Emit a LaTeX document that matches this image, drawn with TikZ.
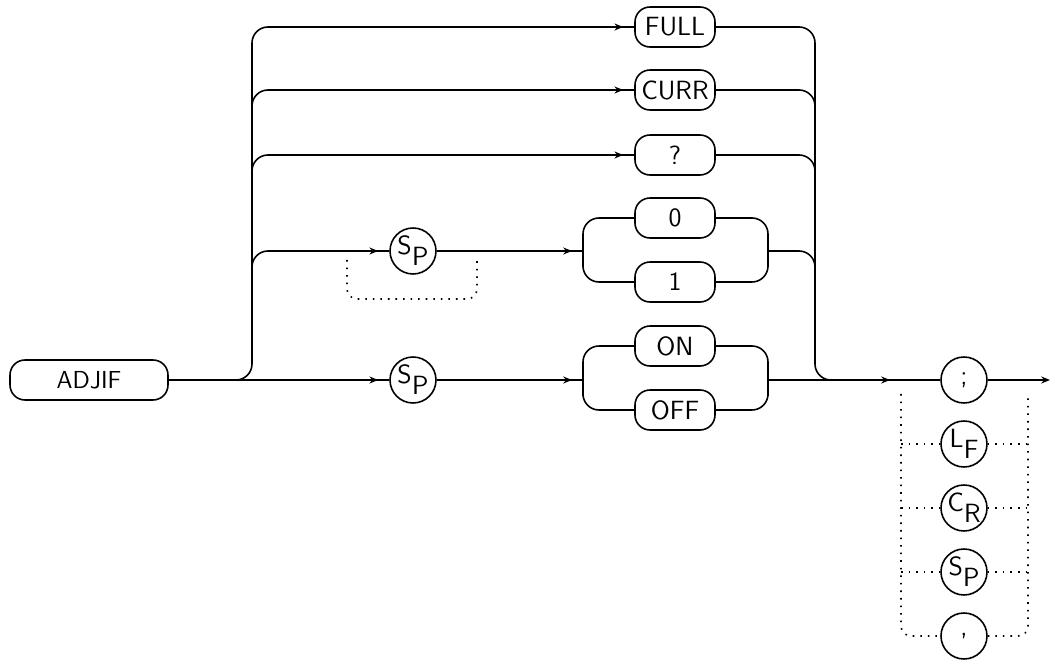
\documentclass[tikz,border=0pt]{standalone}
\usepackage{fontspec}
\usepackage{tikz}
\usetikzlibrary{positioning,calc,arrows.meta,decorations.markings}

\newcommand{\plotfont}{\sffamily\fontsize{15}{17}\selectfont}
\newcommand{\lowpair}[2]{\raisebox{0.45ex}{#1}\kern0.01em\raisebox{-0.5ex}{#2}}

\begin{document}
\begin{tikzpicture}[x=0.02cm, y=-0.02cm,
    box/.style={draw, line width=0.9pt, rounded corners=0.3cm, minimum width=1.6cm, minimum height=0.8cm, inner sep=0pt, font=\plotfont},
    ring/.style={draw, circle, line width=0.9pt, minimum size=0.92cm, inner sep=0pt, font=\plotfont},
    rail/.style={line width=0.9pt, rounded corners=0.32cm},
    opt/.style={line width=0.9pt, dash pattern=on 0.9pt off 3.4pt, rounded corners=0.2cm},
    feed/.style={postaction={decorate, decoration={markings, mark=at position -0.22cm with {\arrow{Stealth[length=5pt,width=4pt]}}}}}
]
\useasboundingbox (0,0) rectangle (1052,661);

% keywords
\node[box, minimum width=3.16cm, font=\sffamily\fontsize{14}{16}\selectfont] (adjif) at (89,380) {ADJIF};
\node[box] (full)  at (675,27)  {FULL};
\node[box] (curr)  at (675,90)  {CURR};
\node[box] (query) at (675,155) {?};
\node[box] (zero)  at (675,218) {0};
\node[box] (one)   at (675,282) {1};
\node[box] (on)    at (675,346) {ON};
\node[box] (off)   at (675,410) {OFF};

% separators
\node[ring] (sp1) at (413,251) {\lowpair{S}{P}};
\node[ring] (sp2) at (413,380) {\lowpair{S}{P}};

% terminators
\node[ring] (semi)  at (964,380) {;};
\node[ring] (lf)    at (964,444) {\lowpair{L}{F}};
\node[ring] (cr)    at (964,508) {\lowpair{C}{R}};
\node[ring] (spc)   at (964,572) {\lowpair{S}{P}};
\node[ring] (comma) at (964,636) {,};

\coordinate (fork)   at (252,380);
\coordinate (join)   at (815,380);
\coordinate (split1) at (583,251);
\coordinate (merge1) at (768,251);
\coordinate (split2) at (583,380);
\coordinate (merge2) at (768,380);
\coordinate (skipa)  at (347,251);
\coordinate (skipb)  at (477,251);
\coordinate (tfork)  at (901,380);
\coordinate (tjoin)  at (1028,380);
\coordinate (out)    at (1050,380);

% main line
\draw[rail, feed] (adjif) -- (sp2);
\draw[rail, feed] (sp2) -- (split2);
\draw[rail] (on.west) -| (split2) |- (off.west);
\draw[rail] (on.east) -| (merge2) |- (off.east);
\draw[rail, feed] (merge2) -- (tfork);
\draw[rail] (tfork) -- (semi);
\draw[rail, -{Stealth[length=5pt,width=4pt]}] (semi) -- (out);

% upper branches
\draw[rail, feed] ($(fork)+(-22,0)$) -- (fork) |- (full.west);
\draw[rail, feed] ($(fork |- curr.west)+(0,30)$) |- (curr.west);
\draw[rail, feed] ($(fork |- query.west)+(0,30)$) |- (query.west);
\draw[rail, feed] ($(fork |- sp1)+(0,30)$) |- (sp1.west);
\draw[rail, feed] (sp1) -- (split1);
\draw[rail] (zero.west) -| (split1) |- (one.west);
\draw[rail] (zero.east) -| (merge1) |- (one.east);
\draw[opt] ($(skipa)+(0,9)$) |- ($(skipb)+(0,48)$) -- ($(skipb)+(0,9)$);

% collector
\draw[rail] (full.east) -| (join) -- ($(join)+(22,0)$);
\draw[rail] (curr.east) -| ($(join |- curr.east)+(0,30)$);
\draw[rail] (query.east) -| ($(join |- query.east)+(0,30)$);
\draw[rail] (merge1) -| ($(join |- merge1)+(0,30)$);

% optional terminators
\draw[opt] ($(tfork)+(0,14)$) |- (comma.west);
\draw[opt] (comma.east) -| ($(tjoin)+(0,14)$);
\draw[opt] (tfork |- lf) -- (lf.west);
\draw[opt] (lf.east) -- (tjoin |- lf);
\draw[opt] (tfork |- cr) -- (cr.west);
\draw[opt] (cr.east) -- (tjoin |- cr);
\draw[opt] (tfork |- spc) -- (spc.west);
\draw[opt] (spc.east) -- (tjoin |- spc);

\end{tikzpicture}
\end{document}
